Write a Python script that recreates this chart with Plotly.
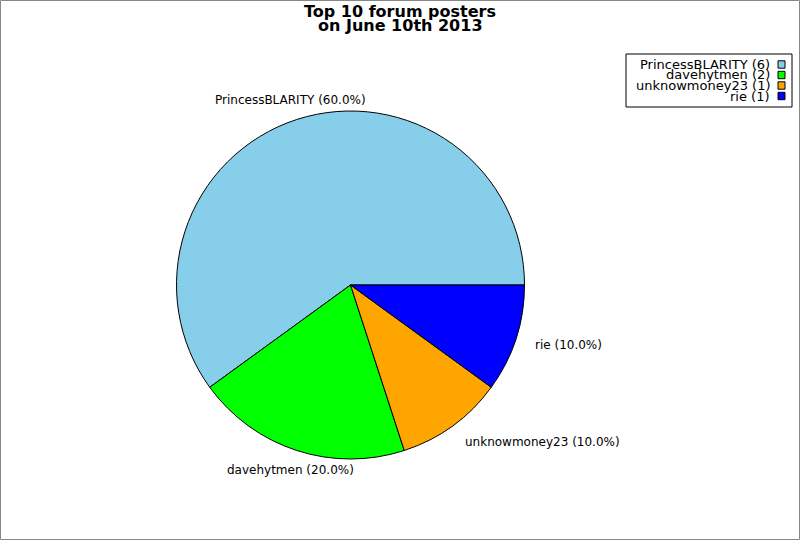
import math
import plotly.graph_objects as go

# data
posters = ['PrincessBLARITY', 'davehytmen', 'unknowmoney23', 'rie']
posts = [6, 2, 1, 1]
colors = ['#87CEEB', '#00FF00', '#FFA500', '#0000FF']
title_lines = ['Top 10 forum posters', 'on June 10th 2013']

W, H = 800, 540
cx, cy, r = 350, 285, 174   # pie centre / radius in pixels
font = 'DejaVu Sans'
total = sum(posts)

# plotly's counterclockwise mode ends the first slice at `rotation`,
# so shift it so the first slice starts at 3 o'clock
rot = (90 - 360 * posts[0] / total) % 360

fig = go.Figure()
fig.add_trace(go.Pie(
    labels=posters, values=posts, sort=False,
    direction='counterclockwise', rotation=rot,
    marker=dict(colors=colors, line=dict(color='black', width=1)),
    textinfo='none', hoverinfo='label+value+percent', showlegend=False,
    domain=dict(x=[(cx - r) / W, (cx + r + 1) / W], y=[1 - (cy + r) / H, 1 - (cy - r) / H]),
))

annotations = []
shapes = []

# slice labels, just outside the pie at each slice's middle angle
start = 0.0
for name, v in zip(posters, posts):
    frac = v / total
    mid = (start + frac / 2) * 2 * math.pi
    start += frac
    lx = cx + 192 * math.cos(mid)
    ly = cy - 194 * math.sin(mid)
    c = math.cos(mid)
    anchor = 'left' if c > 0.5 else ('right' if c < -0.5 else 'center')
    annotations.append(dict(
        x=lx / W, y=1 - ly / H, xref='paper', yref='paper',
        text=f'{name} ({frac * 100:.1f}%)', showarrow=False,
        xanchor=anchor, yanchor='middle',
        font=dict(family=font, size=12, color='black'),
    ))

# title, two tight lines
for i, line in enumerate(title_lines):
    annotations.append(dict(
        x=0.5, y=1 - (11 + i * 14.5) / H, xref='paper', yref='paper',
        text=f'<b>{line}</b>', showarrow=False, xanchor='center', yanchor='middle',
        font=dict(family=font, size=16, color='black'),
    ))

# legend box with swatches on the right
lx0, lx1, ly0, ly1 = 626, 792, 54, 107
shapes.append(dict(type='rect', xref='paper', yref='paper',
                   x0=lx0 / W, x1=lx1 / W, y0=1 - ly1 / H, y1=1 - ly0 / H,
                   line=dict(color='black', width=1), fillcolor='white'))
for i, (name, v, col) in enumerate(zip(posters, posts, colors)):
    yc = 64.5 + i * 10.5
    shapes.append(dict(type='rect', xref='paper', yref='paper',
                       x0=778 / W, x1=785 / W, y0=1 - (yc + 3.7) / H, y1=1 - (yc - 3.7) / H,
                       line=dict(color='black', width=1), fillcolor=col))
    annotations.append(dict(
        x=772 / W, y=1 - yc / H, xref='paper', yref='paper',
        text=f'{name} ({v})', showarrow=False, xanchor='right', yanchor='middle',
        font=dict(family=font, size=13, color='black'),
    ))

# grey frame round the whole picture
shapes.append(dict(type='rect', xref='paper', yref='paper',
                   x0=0.5 / W, x1=799.5 / W, y0=0.5 / H, y1=539.5 / H,
                   line=dict(color='#888888', width=1)))

fig.update_layout(
    width=W, height=H, autosize=False,
    margin=dict(l=0, r=0, t=0, b=0),
    paper_bgcolor='white', plot_bgcolor='white',
    annotations=annotations, shapes=shapes,
)

fig.write_html("out.html", config={'displayModeBar': False},
               post_script="document.body.style.margin = '0';")
